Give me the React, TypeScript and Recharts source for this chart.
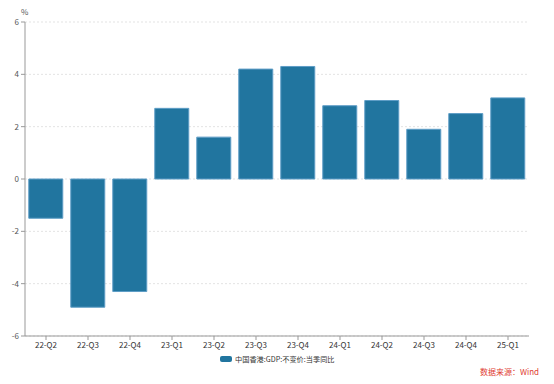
import React from "react";
import { BarChart, Bar, XAxis, YAxis, CartesianGrid } from "recharts";

const categories = ["22-Q2", "22-Q3", "22-Q4", "23-Q1", "23-Q2", "23-Q3", "23-Q4", "24-Q1", "24-Q2", "24-Q3", "24-Q4", "25-Q1"];
const gdpYoY = [-1.5, -4.9, -4.3, 2.7, 1.6, 4.2, 4.3, 2.8, 3.0, 1.9, 2.5, 3.1];
const yTicks = [-6, -4, -2, 0, 2, 4, 6];
const seriesName = "中国香港:GDP:不变价:当季同比";
const sourceText = "数据来源：Wind";

const data = categories.map((c, i) => ({ name: c, value: gdpYoY[i] }));

const FONT = '"Noto Sans CJK SC", "Noto Sans", sans-serif';

export default function App() {
  return (
    <div style={{ position: "absolute", left: 0, top: 0, width: 554, height: 384, background: "#fff", fontFamily: FONT }}>
      <BarChart
        width={554}
        height={384}
        data={data}
        margin={{ top: 22, right: 25, left: 5, bottom: 28 }}
        barCategoryGap="9%"
      >
        <CartesianGrid horizontal vertical={false} stroke="#e3e3e3" strokeDasharray="2 2" />
        <XAxis
          dataKey="name"
          height={20}
          axisLine={{ stroke: "#999" }}
          tickLine={{ stroke: "#999" }}
          tickSize={4}
          tick={{ fontSize: 8, fill: "#333", fontFamily: FONT }}
          interval={0}
        />
        <YAxis
          width={20}
          domain={[-6, 6]}
          ticks={yTicks}
          axisLine={{ stroke: "#999" }}
          tickLine={{ stroke: "#999" }}
          tickSize={4}
          tick={{ fontSize: 8, fill: "#555", fontFamily: FONT }}
          allowDataOverflow
        />
        <Bar dataKey="value" name={seriesName} fill="#21759f" stroke="#5e9dc6" strokeWidth={1} isAnimationActive={false} />
      </BarChart>
      <div style={{ position: "absolute", left: 21, top: 6, fontSize: 8, color: "#555" }}>%</div>
      <div style={{ position: "absolute", left: 220, top: 354, display: "flex", alignItems: "center", fontSize: 7.2, color: "#333", whiteSpace: "nowrap" }}>
        <span style={{ display: "inline-block", width: 12, height: 6, background: "#21759f", borderRadius: 2, marginRight: 3 }} />
        <span>{seriesName}</span>
      </div>
      <div style={{ position: "absolute", left: 480, top: 366, fontSize: 8, color: "#e03c31", whiteSpace: "nowrap" }}>{sourceText}</div>
    </div>
  );
}
